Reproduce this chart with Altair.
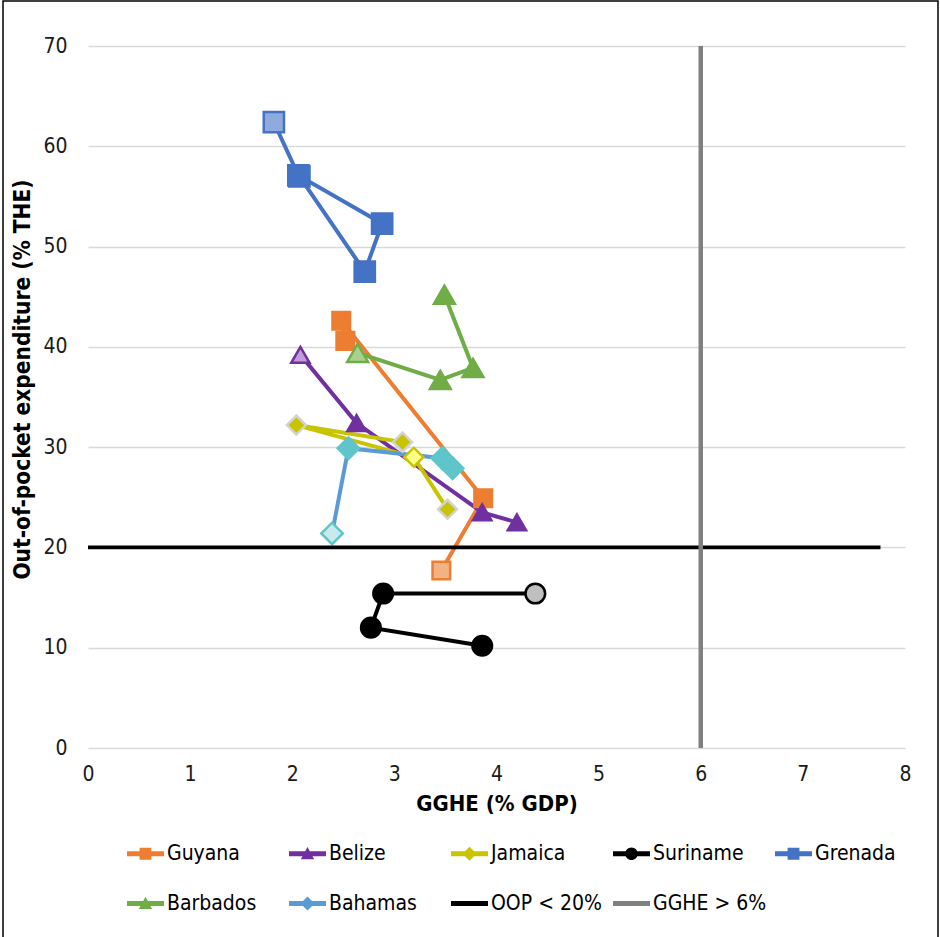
import altair as alt
import pandas as pd

# ---- series values: GGHE (% GDP) on x, out-of-pocket (% THE) on y ----
countries = ["Guyana", "Belize", "Jamaica", "Suriname", "Grenada", "Barbados", "Bahamas"]

guyana_gghe = [3.46, 3.87, 2.48, 2.52]
guyana_oop = [17.7, 24.9, 42.6, 40.6]

belize_gghe = [2.08, 2.63, 3.86, 4.20]
belize_oop = [39.2, 32.4, 23.5, 22.5]

jamaica_gghe = [3.08, 2.04, 3.19, 3.52]
jamaica_oop = [30.5, 32.2, 29.0, 23.8]

suriname_gghe = [4.38, 2.89, 2.77, 3.86]
suriname_oop = [15.4, 15.4, 12.0, 10.2]

grenada_gghe = [1.82, 2.06, 2.88, 2.71, 2.07]
grenada_oop = [62.4, 57.1, 52.3, 47.5, 57.0]

barbados_gghe = [2.64, 3.45, 3.77, 3.49]
barbados_oop = [39.4, 36.7, 37.9, 45.2]

bahamas_gghe = [2.39, 2.55, 3.47, 3.57]
bahamas_oop = [21.4, 29.9, 28.9, 27.9]

# index of the point drawn with the pale marker in each series
pale_point = [0, 0, 2, 0, 0, 0, 0]

# reference thresholds
oop_line_gghe = [0, 7.76]
oop_line_oop = [20, 20]
gghe_line_gghe = [6, 6]
gghe_line_oop = [0, 70]

x_ticks = [0, 1, 2, 3, 4, 5, 6, 7, 8]
y_ticks = [0, 10, 20, 30, 40, 50, 60, 70]

legend_names = countries + ["OOP < 20%", "GGHE > 6%"]

# ---- styling ----
line_colors = ["#ED7D31", "#7030A0", "#C9C400", "#000000", "#4472C4", "#70AD47", "#5B9BD5"]
fill_colors = ["#ED7D31", "#7030A0", "#C9C400", "#000000", "#4472C4", "#70AD47", "#5FC5CA"]
edge_colors = ["#ED7D31", "#7030A0", "#D3D3D3", "#000000", "#4472C4", "#70AD47", "#5FC5CA"]
pale_fill_colors = ["#F4B183", "#C49BD9", "#FFFF85", "#BFBFBF", "#8FAADC", "#A9D18E", "#C8EAEC"]
pale_edge_colors = ["#ED7D31", "#7030A0", "#C9C400", "#000000", "#4472C4", "#70AD47", "#5FC5CA"]
shapes = ["square", "triangle-up", "diamond", "circle", "square", "triangle-up", "diamond"]
sizes = [310, 460, 440, 530, 310, 460, 440]

FONT = "Liberation Sans Narrow, DejaVu Sans Condensed, Roboto Condensed, Arial Narrow, Liberation Sans"

series = [
    (guyana_gghe, guyana_oop), (belize_gghe, belize_oop), (jamaica_gghe, jamaica_oop),
    (suriname_gghe, suriname_oop), (grenada_gghe, grenada_oop),
    (barbados_gghe, barbados_oop), (bahamas_gghe, bahamas_oop),
]

rows = []
for c, (xs, ys), p in zip(countries, series, pale_point):
    for i, (xv, yv) in enumerate(zip(xs, ys)):
        rows.append({"country": c, "step": i, "gghe": xv, "oop": yv,
                     "marker": c + (" pale" if i == p else "")})
df = pd.DataFrame(rows)

marker_keys = countries + [c + " pale" for c in countries]
marker_fill = fill_colors + pale_fill_colors
marker_edge = edge_colors + pale_edge_colors

x_scale = alt.Scale(domain=[0, 8], nice=False, zero=False)
y_scale = alt.Scale(domain=[0, 70], nice=False)

x_enc = alt.X("gghe:Q", scale=x_scale,
              axis=alt.Axis(values=x_ticks, format="d", grid=False, domain=False, ticks=False,
                            labelFlush=False, labelPadding=15, title="GGHE (% GDP)",
                            titleFontSize=22, titlePadding=9))
y_enc = alt.Y("oop:Q", scale=y_scale,
              axis=alt.Axis(values=y_ticks, format="d", grid=True, domain=False, ticks=False,
                            labelFlush=False, labelPadding=21,
                            title="Out-of-pocket expenditure (% THE)",
                            titleFontSize=22.5, titlePadding=8, titleY=333))

base = alt.Chart(df)

lines = base.mark_line(strokeWidth=4).encode(
    x=x_enc, y=y_enc,
    color=alt.Color("country:N", scale=alt.Scale(domain=countries, range=line_colors), legend=None),
    detail="country:N",
    order="step:Q",
)

points = base.mark_point(filled=True, strokeWidth=2.5, opacity=1).encode(
    x="gghe:Q", y="oop:Q",
    shape=alt.Shape("country:N", scale=alt.Scale(domain=countries, range=shapes), legend=None),
    size=alt.Size("country:N", scale=alt.Scale(domain=countries, range=sizes), legend=None),
    fill=alt.Fill("marker:N", scale=alt.Scale(domain=marker_keys, range=marker_fill), legend=None),
    stroke=alt.Stroke("marker:N", scale=alt.Scale(domain=marker_keys, range=marker_edge), legend=None),
)

oop_df = pd.DataFrame({"gghe": oop_line_gghe, "oop": oop_line_oop, "step": [0, 1]})
oop_rule = alt.Chart(oop_df).mark_line(color="#000000", strokeWidth=3.8).encode(
    x="gghe:Q", y="oop:Q", order="step:Q")

gghe_df = pd.DataFrame({"gghe": gghe_line_gghe, "oop": gghe_line_oop, "step": [0, 1]})
gghe_rule = alt.Chart(gghe_df).mark_line(color="#808080", strokeWidth=4.5).encode(
    x="gghe:Q", y="oop:Q", order="step:Q")

# legend keys: a line segment with the series marker in its middle (unit coordinates)
BAR = "M-1,-0.13L1,-0.13L1,0.13L-1,0.13Z"
BAR_THICK = "M-1,-0.14L1,-0.14L1,0.14L-1,0.14Z"
SQ = "M-0.32,-0.32L0.32,-0.32L0.32,0.32L-0.32,0.32Z"
TRI = "M0,-0.36L0.36,0.3L-0.36,0.3Z"
DIA = "M0,-0.38L0.38,0L0,0.38L-0.38,0Z"
CIR = "M0.34,0A0.34,0.34 0 1,1 -0.34,0A0.34,0.34 0 1,1 0.34,0Z"
legend_paths = [BAR + SQ, BAR + TRI, BAR + DIA, BAR + CIR, BAR + SQ, BAR + TRI, BAR + DIA,
                BAR_THICK, BAR_THICK]
legend_colors = line_colors[:6] + ["#5B9BD5", "#000000", "#808080"]

legend_props = dict(
    orient="none", legendX=39, legendY=789, columns=5, direction="horizontal",
    gridAlign="all", title=None, padding=0, symbolSize=1369, symbolStrokeWidth=0,
    symbolOpacity=1, labelFont=FONT, labelFontSize=21, labelColor="#000000", labelOffset=3,
    rowPadding=21, columnPadding=8, labelLimit=200,
)

legend_df = pd.DataFrame({"name": legend_names})
legend_layer = alt.Chart(legend_df).mark_point(filled=True, opacity=0).encode(
    x=alt.value(0), y=alt.value(0),
    color=alt.Color("name:N", scale=alt.Scale(domain=legend_names, range=legend_colors),
                    legend=alt.Legend(**legend_props)),
    shape=alt.Shape("name:N", scale=alt.Scale(domain=legend_names, range=legend_paths),
                    legend=alt.Legend(**legend_props)),
)

# thin frame around the whole figure
frame = alt.Chart(pd.DataFrame({"k": [0]})).mark_rect(
    fill=None, stroke="#000000", strokeWidth=1.5
).encode(x=alt.value(-85), x2=alt.value(850), y=alt.value(-45), y2=alt.value(900))

chart = alt.layer(lines, points, oop_rule, gghe_rule, legend_layer, frame).resolve_scale(
    color="independent", shape="independent"
).properties(
    width=817, height=702,
    autosize=alt.AutoSizeParams(type="none"),
    padding={"left": 88, "top": 46, "right": 35, "bottom": 189},
).configure_view(stroke=None).configure_axis(
    labelFont=FONT, titleFont=FONT, labelFontSize=21,
    titleFontWeight="bold", labelColor="#1a1a1a", titleColor="#000000",
    gridColor="#D9D9D9", gridWidth=1.3,
)

chart.save("out.html", embed_options={"renderer": "svg", "actions": False})
